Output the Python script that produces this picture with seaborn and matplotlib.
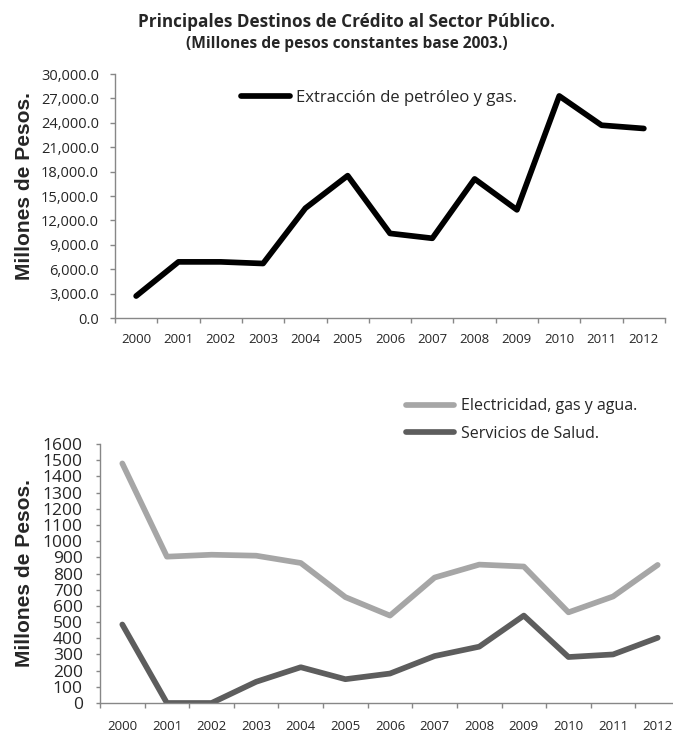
import numpy as np
import pandas as pd
import matplotlib
matplotlib.use("Agg")
import matplotlib.pyplot as plt
import seaborn as sns
from matplotlib.ticker import FuncFormatter, MultipleLocator

years = [2000, 2001, 2002, 2003, 2004, 2005, 2006, 2007, 2008, 2009, 2010, 2011, 2012]
petroleo = [2700, 6900, 6900, 6700, 13500, 17500, 10400, 9800, 17100, 13300, 27300, 23700, 23300]
electricidad = [1480, 904, 916, 910, 865, 654, 540, 775, 855, 843, 560, 658, 853]
salud = [485, 0, 0, 131, 221, 147, 182, 290, 348, 540, 284, 300, 403]

title = "Principales Destinos de Crédito al Sector Público."
subtitle = "(Millones de pesos constantes base 2003.)"
ylabel = "Millones de Pesos."
lab_pet = "Extracción de petróleo y gas."
lab_ele = "Electricidad, gas y agua."
lab_sal = "Servicios de Salud."

sns.set_theme(style="white")
base_font = ["Open Sans", "DejaVu Sans"]
label_font = ["Liberation Sans", "DejaVu Sans"]
plt.rcParams['font.family'] = base_font

W, H = 673, 736
DPI = 100
fig = plt.figure(figsize=(W / DPI, H / DPI), dpi=DPI)
PX2PT = 72.0 / DPI

def axrect(l, t, r, b):
    return [l / W, 1 - b / H, (r - l) / W, (b - t) / H]

top_l, top_t, top_r, top_b = 115, 74, 665, 318
bot_l, bot_t, bot_r, bot_b = 100, 444, 680, 703
ax1 = fig.add_axes(axrect(top_l, top_t, top_r, top_b))
ax2 = fig.add_axes(axrect(bot_l, bot_t, bot_r, bot_b))

spine_col = "#878787"
LW = 4.1
line_kw = dict(solid_capstyle="round", solid_joinstyle="round")

df1 = pd.DataFrame({"Año": years, "Valor": petroleo, "Serie": lab_pet})
sns.lineplot(data=df1, x="Año", y="Valor", hue="Serie", palette=["#000000"],
             linewidth=LW, ax=ax1, legend=False, **line_kw)

df2 = pd.concat([
    pd.DataFrame({"Año": years, "Valor": electricidad, "Serie": lab_ele}),
    pd.DataFrame({"Año": years, "Valor": salud, "Serie": lab_sal}),
])
sns.lineplot(data=df2, x="Año", y="Valor", hue="Serie", palette=["#a6a6a6", "#5d5d5d"],
             linewidth=LW, ax=ax2, legend=False, **line_kw)

for ax, xpad, ypad, ylen, ysize in ((ax1, 10.8, 7.9, 3.6, 10.5), (ax2, 12.0, 9.4, 3.0, 12.5)):
    ax.set_xlim(years[0] - 0.5, years[-1] + 0.5)
    ax.set_xticks(years)
    ax.set_xticklabels([str(y) for y in years])
    ax.set_xticks(np.arange(years[0] - 0.5, years[-1] + 1.0, 1.0), minor=True)
    ax.tick_params(axis="x", which="major", length=0, pad=xpad, labelsize=9.5)
    ax.tick_params(axis="x", which="minor", length=3.6, color=spine_col, width=1.0,
                   direction="out", bottom=True)
    ax.tick_params(axis="y", which="major", length=ylen, color=spine_col, width=1.0,
                   direction="out", left=True, pad=ypad, labelsize=ysize)
    for s in ("top", "right"):
        ax.spines[s].set_visible(False)
    for s in ("left", "bottom"):
        ax.spines[s].set_color(spine_col)
        ax.spines[s].set_linewidth(1.0)
    ax.set_xlabel("")
    ax.grid(False)

ax1.set_ylim(0, 30000)
ax1.yaxis.set_major_locator(MultipleLocator(3000))
ax1.yaxis.set_major_formatter(FuncFormatter(lambda v, p: f"{v:,.1f}"))

ax2.set_ylim(0, 1600)
ax2.yaxis.set_major_locator(MultipleLocator(100))
ax2.yaxis.set_major_formatter(FuncFormatter(lambda v, p: f"{v:.0f}"))

fig.canvas.draw()
renderer = fig.canvas.get_renderer()

def fit_width(t, target, vertical=False):
    bb = t.get_window_extent(renderer)
    w = bb.height if vertical else bb.width
    t.set_fontsize(t.get_fontsize() * target / w)

# y labels (length and vertical centre in pixels)
for ax, (l, t, r, b), yc in ((ax1, (top_l, top_t, top_r, top_b), 186),
                             (ax2, (bot_l, bot_t, bot_r, bot_b), 573)):
    ax.set_ylabel(ylabel, fontsize=14, fontweight="bold", family=label_font, va="center")
    xc = (25 - l) / (r - l)
    ax.yaxis.set_label_coords(xc, (b - yc) / (b - t))
    fig.canvas.draw()
    fit_width(ax.yaxis.label, 188, vertical=True)

# titles
tt = fig.text(347 / W, 1 - 22 / H, title, ha="center", va="center", fontsize=12,
              fontweight="bold", family=base_font)
st = fig.text(347 / W, 1 - 44 / H, subtitle, ha="center", va="center", fontsize=9,
              fontweight="bold", family=base_font)
fig.canvas.draw()
fit_width(tt, 415)
fit_width(st, 321)

def measure_fs(text, target):
    tmp = fig.text(0, 0, text, fontsize=10)
    fig.canvas.draw()
    bb = tmp.get_window_extent(renderer)
    fs = 10 * target / bb.width
    tmp.set_fontsize(fs)
    fig.canvas.draw()
    h = tmp.get_window_extent(renderer).height
    tmp.remove()
    return fs, h

fs1, _ = measure_fs(lab_pet, 221)
fs2, h2 = measure_fs(lab_ele, 178)
fs1_px = fs1 / PX2PT
fs2_px = fs2 / PX2PT

leg1 = ax1.legend([ax1.lines[0]], [lab_pet], loc="center left",
                  bbox_to_anchor=(241 / W, 1 - 98 / H), bbox_transform=fig.transFigure,
                  frameon=False, fontsize=fs1, handlelength=49 / fs1_px,
                  handletextpad=6 / fs1_px, borderpad=0, borderaxespad=0)
for ln in leg1.get_lines():
    ln.set_solid_capstyle("round")
    ln.set_linewidth(LW)

leg2 = ax2.legend(ax2.lines[:2], [lab_ele, lab_sal], loc="center left",
                  bbox_to_anchor=(406 / W, 1 - 420 / H), bbox_transform=fig.transFigure,
                  frameon=False, fontsize=fs2, handlelength=48 / fs2_px,
                  handletextpad=7 / fs2_px, labelspacing=max(27 - h2, 0) / fs2_px,
                  borderpad=0, borderaxespad=0)
for ln in leg2.get_lines():
    ln.set_solid_capstyle("round")
    ln.set_linewidth(LW)

fig.savefig("out.png", dpi=DPI)
